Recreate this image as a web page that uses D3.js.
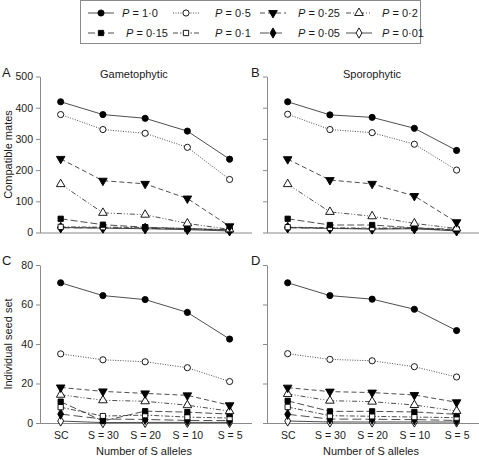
<!DOCTYPE html>
<html><head><meta charset="utf-8">
<script src="https://cdn.jsdelivr.net/npm/d3@7"></script>
<style>
html,body{margin:0;padding:0;background:#fff;}
svg{display:block;font-family:"Liberation Sans",Arial,Helvetica,sans-serif;}
</style></head>
<body>
<svg id="chart" width="479" height="460"></svg>
<script>
// ---- data ----
const categories = ["SC", "S = 30", "S = 20", "S = 10", "S = 5"];
const pLabels = ["1·0", "0·5", "0·25", "0·2", "0·15", "0·1", "0·05", "0·01"];
const matesTicks = [0, 100, 200, 300, 400, 500];
const seedTicks = [0, 20, 40, 60, 80];

// Panel A: Gametophytic, compatible mates
const gamMates_p100 = [419, 378, 366, 325, 235];
const gamMates_p050 = [378, 330, 318, 273, 170];
const gamMates_p025 = [236, 166, 156, 109, 20];
const gamMates_p020 = [155, 63, 57, 29, 10];
const gamMates_p015 = [44, 25, 17, 12, 9];
const gamMates_p010 = [18, 17, 16, 13, 8];
const gamMates_p005 = [15, 15, 13, 12, 7];
const gamMates_p001 = [16, 14, 12, 9, 5];

// Panel B: Sporophytic, compatible mates
const spoMates_p100 = [419, 377, 369, 334, 263];
const spoMates_p050 = [379, 330, 320, 283, 200];
const spoMates_p025 = [235, 168, 156, 117, 33];
const spoMates_p020 = [155, 66, 52, 29, 13];
const spoMates_p015 = [44, 24, 24, 15, 10];
const spoMates_p010 = [17, 15, 14, 15, 8];
const spoMates_p005 = [15, 14, 12, 13, 7];
const spoMates_p001 = [16, 13, 11, 12, 5];

// Panel C: Gametophytic, individual seed set
const gamSeed_p100 = [71, 64.5, 62.5, 56, 42.5];
const gamSeed_p050 = [35, 32, 31, 28, 21];
const gamSeed_p025 = [18, 16, 15, 14, 9];
const gamSeed_p020 = [14.3, 11.5, 11, 9, 6];
const gamSeed_p015 = [10.8, 1.0, 6, 5.5, 4.5];
const gamSeed_p010 = [8, 3.5, 4, 3, 2.5];
const gamSeed_p005 = [4.5, 2, 1.8, 1.3, 1.2];
const gamSeed_p001 = [1, 0.2, 0.3, 0.3, 0.3];

// Panel D: Sporophytic, individual seed set
const spoSeed_p100 = [71, 64.5, 62.7, 57.6, 46.8];
const spoSeed_p050 = [35.1, 32.2, 31.5, 28.5, 23.3];
const spoSeed_p025 = [17.9, 15.9, 15.4, 14.2, 10.5];
const spoSeed_p020 = [14.7, 11.3, 10.8, 9.1, 6.1];
const spoSeed_p015 = [11.2, 5.9, 5.9, 5.6, 4.4];
const spoSeed_p010 = [8.1, 3.7, 3.4, 3.0, 2.7];
const spoSeed_p005 = [4.4, 2.0, 1.9, 1.7, 1.3];
const spoSeed_p001 = [1.0, 0.5, 0.5, 0.5, 0.5];

// ---- styles per series ----
const styles = [
  {sym: d3.symbolCircle,   rot: 0,   fill: "#000", size: 30, dash: null},
  {sym: d3.symbolCircle,   rot: 0,   fill: "#fff", size: 30, dash: "1,1.5"},
  {sym: d3.symbolTriangle, rot: 180, fill: "#000", size: 32, dash: "5,3"},
  {sym: d3.symbolTriangle, rot: 0,   fill: "#fff", size: 32, dash: "5,2,1,2,1,2"},
  {sym: d3.symbolSquare,   rot: 0,   fill: "#000", size: 28, dash: "7,3"},
  {sym: d3.symbolSquare,   rot: 0,   fill: "#fff", size: 28, dash: "5,2,1.5,2"},
  {sym: d3.symbolDiamond,  rot: 0,   fill: "#000", size: 30, dash: "9,4"},
  {sym: d3.symbolDiamond,  rot: 0,   fill: "#fff", size: 30, dash: null}
];

const panels = [
  {letter: "A", title: "Gametophytic", titleX: 100, x0: 40,  y0: 232.5, y1: 76.5, max: 500, ticks: matesTicks, labels: true, xlab: false,
   series: [gamMates_p100, gamMates_p050, gamMates_p025, gamMates_p020, gamMates_p015, gamMates_p010, gamMates_p005, gamMates_p001]},
  {letter: "B", title: "Sporophytic", titleX: 343, x0: 267, y0: 232.5, y1: 76.5, max: 500, ticks: matesTicks, labels: false, xlab: false,
   series: [spoMates_p100, spoMates_p050, spoMates_p025, spoMates_p020, spoMates_p015, spoMates_p010, spoMates_p005, spoMates_p001]},
  {letter: "C", title: null, x0: 40,  y0: 423, y1: 265, max: 80, ticks: seedTicks, labels: true, xlab: true,
   series: [gamSeed_p100, gamSeed_p050, gamSeed_p025, gamSeed_p020, gamSeed_p015, gamSeed_p010, gamSeed_p005, gamSeed_p001]},
  {letter: "D", title: null, x0: 267, y0: 423, y1: 265, max: 80, ticks: seedTicks, labels: false, xlab: true,
   series: [spoSeed_p100, spoSeed_p050, spoSeed_p025, spoSeed_p020, spoSeed_p015, spoSeed_p010, spoSeed_p005, spoSeed_p001]}
];

const svg = d3.select("#chart");
const axisColor = "#8a8a8a";
const lineColor = "#3a3a3a";
const textColor = "#1a1a1a";
const panelW = 212;

panels.forEach(p => {
  const x = d3.scalePoint().domain(categories).range([p.x0, p.x0 + panelW]).padding(0.51).align(0.48);
  const y = d3.scaleLinear().domain([0, p.max]).range([p.y0, p.y1]);
  const g = svg.append("g");

  // y axis
  const ya = d3.axisLeft(y).tickValues(p.ticks).tickSize(4).tickSizeOuter(0).tickPadding(3)
    .tickFormat(p.labels ? d3.format("d") : () => "");
  const yg = g.append("g").attr("transform", `translate(${p.x0},0)`).call(ya);
  yg.select(".domain").attr("stroke", axisColor);
  yg.selectAll(".tick line").attr("stroke", axisColor);
  yg.selectAll(".tick text").attr("fill", textColor).style("font-size", "10.5px").style("font-family", "Liberation Sans, Arial, sans-serif");

  // x axis
  const xa = d3.axisBottom(x).tickSize(0).tickSizeOuter(0).tickPadding(9)
    .tickFormat(p.xlab ? (d => d) : () => "");
  const xg = g.append("g").attr("transform", `translate(0,${p.y0})`).call(xa);
  xg.select(".domain").attr("stroke", axisColor).attr("d", `M${p.x0},0.5H${p.x0 + panelW}`);
  xg.selectAll(".tick text").attr("fill", textColor).style("font-size", "10.5px").style("font-family", "Liberation Sans, Arial, sans-serif");

  // lines (draw from last series to first so upper series on top)
  const line = d3.line().x((d, i) => x(categories[i])).y(d => y(d));
  for (let s = p.series.length - 1; s >= 0; s--) {
    g.append("path").datum(p.series[s])
      .attr("d", line).attr("fill", "none")
      .attr("stroke", lineColor).attr("stroke-width", 0.9)
      .attr("stroke-dasharray", styles[s].dash);
  }
  for (let s = p.series.length - 1; s >= 0; s--) {
    const st = styles[s];
    g.selectAll(null).data(p.series[s]).enter().append("path")
      .attr("d", d3.symbol().type(st.sym).size(st.size))
      .attr("transform", (d, i) => `translate(${x(categories[i])},${y(d)}) rotate(${st.rot})`)
      .attr("fill", st.fill).attr("stroke", "#000").attr("stroke-width", 0.9);
  }

  // panel letter
  svg.append("text").attr("x", p.x0 < 100 ? 2 : 251).attr("y", p.y1 + 0)
    .attr("fill", textColor).style("font-size", "13px").text(p.letter);
  if (p.title) {
    svg.append("text").attr("x", p.titleX).attr("y", p.y1 + 1)
      .attr("fill", textColor).style("font-size", "11px").text(p.title);
  }
});

// y axis titles
svg.append("text").attr("transform", `translate(12,${(232.5 + 76.5) / 2}) rotate(-90)`)
  .attr("text-anchor", "middle").attr("fill", textColor).style("font-size", "11px").text("Compatible mates");
svg.append("text").attr("transform", `translate(12,${(423 + 265) / 2}) rotate(-90)`)
  .attr("text-anchor", "middle").attr("fill", textColor).style("font-size", "11px").text("Individual seed set");

// x axis titles
[40, 267].forEach(x0 => {
  svg.append("text").attr("x", x0 + panelW / 2 - 2).attr("y", 455).attr("text-anchor", "middle")
    .attr("fill", textColor).style("font-size", "11px").text("Number of S alleles");
});

// ---- legend ----
const leg = svg.append("g");
leg.append("rect").attr("x", 80.5).attr("y", 0.5).attr("width", 340).attr("height", 43)
  .attr("fill", "#fff").attr("stroke", axisColor).attr("stroke-width", 1);
const legCols = [88, 173, 260, 346];
const legText = [34, 42, 38, 36];
pLabels.forEach((lab, i) => {
  const col = i % 4, row = Math.floor(i / 4);
  const cx = legCols[col], cy = row === 0 ? 13 : 33;
  const st = styles[i];
  leg.append("line").attr("x1", cx).attr("x2", cx + 26).attr("y1", cy).attr("y2", cy)
    .attr("stroke", lineColor).attr("stroke-width", 0.9).attr("stroke-dasharray", st.dash);
  leg.append("path").attr("d", d3.symbol().type(st.sym).size(st.size))
    .attr("transform", `translate(${cx + 13},${cy}) rotate(${st.rot})`)
    .attr("fill", st.fill).attr("stroke", "#000").attr("stroke-width", 0.9);
  const t = leg.append("text").attr("x", cx + legText[col] + (row === 1 && col === 0 ? 4 : 0)).attr("y", cy + 4)
    .attr("fill", textColor).style("font-size", "11px");
  t.append("tspan").style("font-style", "italic").text("P");
  t.append("tspan").text(" = " + lab);
});
</script>
</body></html>
